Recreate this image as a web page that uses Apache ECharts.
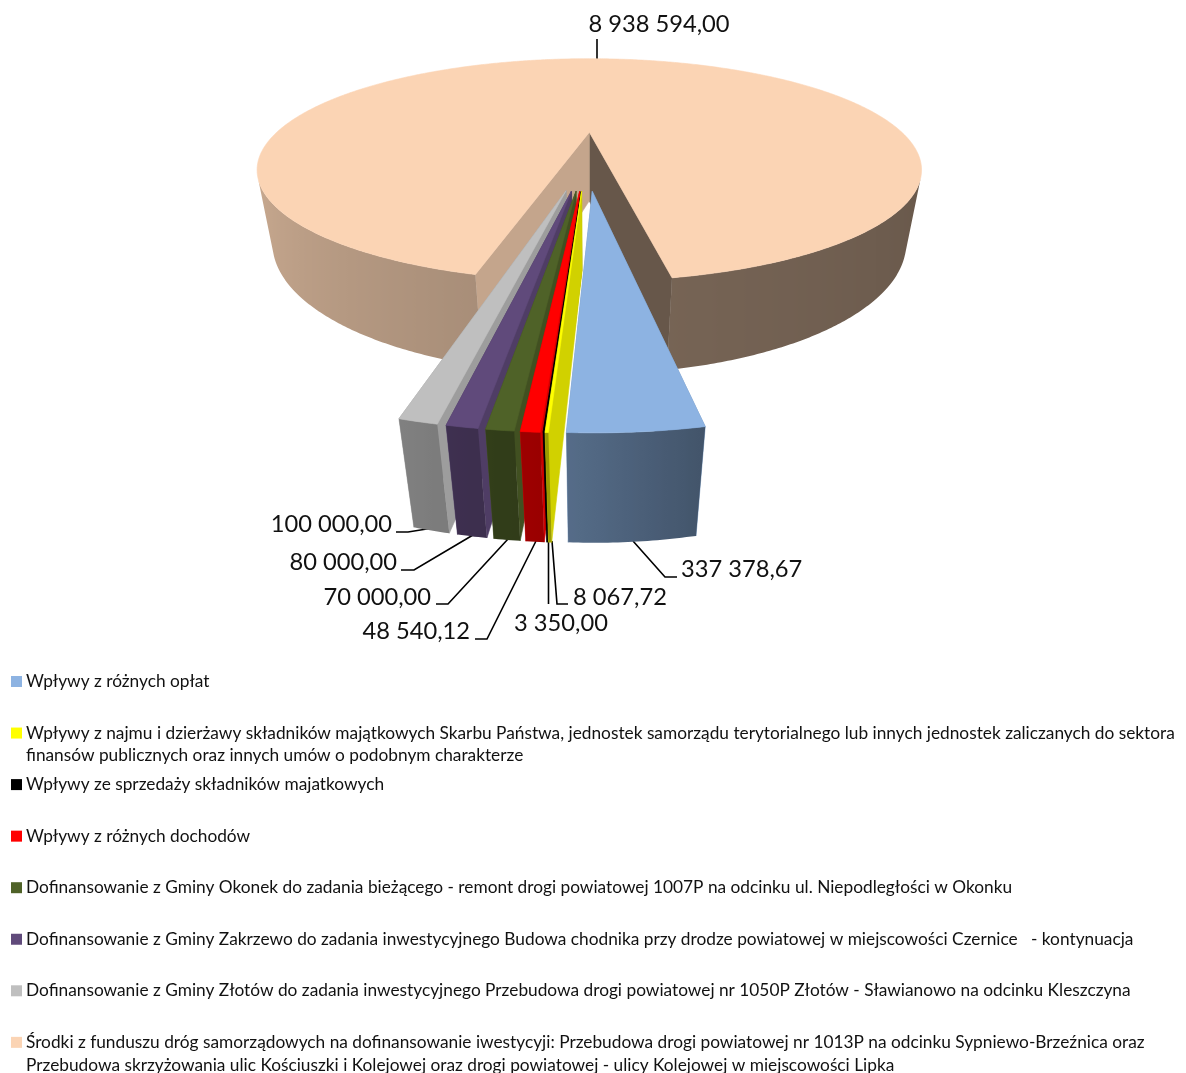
<!DOCTYPE html>
<html>
<head>
<meta charset="utf-8">
<title>Wplywy</title>
<script src="https://cdn.jsdelivr.net/npm/echarts@6/dist/echarts.min.js"></script>
<style>
    html, body { margin: 0; background: #fff; }
    #chart { width: 1186px; height: 1073px; }
</style>
</head>
<body>
<div id="chart"></div>
<script>
const categories = [
    'Wpływy z różnych opłat',
    'Wpływy z najmu i dzierżawy składników majątkowych Skarbu Państwa, jednostek samorządu terytorialnego lub innych jednostek zaliczanych do sektora\nfinansów publicznych oraz innych umów o podobnym charakterze',
    'Wpływy ze sprzedaży składników majatkowych',
    'Wpływy z różnych dochodów',
    'Dofinansowanie z Gminy Okonek do zadania bieżącego - remont drogi powiatowej 1007P na odcinku ul. Niepodległości w Okonku',
    'Dofinansowanie z Gminy Zakrzewo do zadania inwestycyjnego Budowa chodnika przy drodze powiatowej w miejscowości Czernice   - kontynuacja',
    'Dofinansowanie z Gminy Złotów do zadania inwestycyjnego Przebudowa drogi powiatowej nr 1050P Złotów - Sławianowo na odcinku Kleszczyna',
    'Środki z funduszu dróg samorządowych na dofinansowanie iwestycyji: Przebudowa drogi powiatowej nr 1013P na odcinku Sypniewo-Brzeźnica oraz\nPrzebudowa skrzyżowania ulic Kościuszki i Kolejowej oraz drogi powiatowej - ulicy Kolejowej w miejscowości Lipka'
];
const values = [337378.67, 8067.72, 3350, 48540.12, 70000, 80000, 100000, 8938594];
const colors = ['#8DB3E2', '#FFFF00', '#000000', '#FF0000', '#4F6228', '#604A7B', '#BFBFBF', '#FBD4B4'];

// data labels: text anchor and leader line, same order as values
const labelLayout = [
    { x: 681, y: 569.5, align: 'left', line: [[677, 577], [665, 577], [633, 541]] },
    { x: 573, y: 597.5, align: 'left', line: [[568, 604], [557, 604], [552, 541]] },
    { x: 514, y: 623.5, align: 'left', line: [[548.5, 604], [548.5, 541]] },
    { x: 470, y: 631.5, align: 'right', line: [[475, 639], [487, 639], [536, 541]] },
    { x: 431, y: 597.5, align: 'right', line: [[436, 604], [448, 604], [508, 539]] },
    { x: 397, y: 562.5, align: 'right', line: [[401, 570], [414, 570], [473, 535]] },
    { x: 392, y: 524.5, align: 'right', line: [[396, 532], [408, 532], [433, 528]] },
    { x: 659, y: 24.5, align: 'center', line: [[597, 39], [597, 59]] }
];

// camera of the 3D pie, fitted to the picture
const cam = { cx: 589.3, cy: 132.7, A: 313, B: 98.8, k: 0.34, m: 0.043, vy: 1800 };
const pie = { x: -0.0087, y: 0.245, explode: 0.25, startDeg: 10.15 };
// wall brightness by the direction the wall faces
const wallShade = [[-180, 0.86], [-90, 0.86], [-14, 0.67], [-2, 0.6], [10, 0.47], [90, 0.39], [180, 0.39]];

const project = (x, y, d) => {
    const u = 1 - cam.k * y;
    const s = u / (u + cam.m * d);
    const x0 = cam.A * x / u;
    const y0 = cam.cy + cam.B * y / u;
    return [cam.cx + x0 * s, cam.vy + (y0 - cam.vy) * s];
};

const shade = (hex, f) => {
    const n = parseInt(hex.slice(1), 16);
    const c = [n >> 16, (n >> 8) & 255, n & 255].map(v => Math.round(v * f));
    return 'rgb(' + c.join(',') + ')';
};

const normDeg = (deg) => ((deg + 180) % 360 + 360) % 360 - 180;

const shadeAt = (deg) => {
    const a = normDeg(deg);
    for (let i = 1; i < wallShade.length; i++) {
        if (a <= wallShade[i][0]) {
            const p = wallShade[i - 1], q = wallShade[i];
            return p[1] + (q[1] - p[1]) * (a - p[0]) / (q[0] - p[0]);
        }
    }
    return 0.4;
};

const total = values.reduce((a, b) => a + b, 0);
let running = pie.startDeg;
const slices = values.map(v => {
    const sweep = v / total * 360;
    const s = { from: running, to: running - sweep };
    running -= sweep;
    return s;
});

const poly = (points, fill) => ({
    type: 'polygon',
    shape: { points: points },
    style: { fill: fill, stroke: fill, lineWidth: 0.6 }
});

// one polygon for a run of the outer wall, shaded left to right by a gradient
const wallPolygon = (run, rim, color) => {
    const top = run.map(a => rim(a, 0));
    const bottom = run.map(a => rim(a, 1)).reverse();
    const xs = top.map(p => p[0]);
    const minX = Math.min(...xs);
    const maxX = Math.max(...xs);
    const stops = run.map((a, n) => ({
        offset: (xs[n] - minX) / (maxX - minX),
        color: shade(color, shadeAt(a))
    })).sort((p, q) => p.offset - q.offset);
    const fill = { type: 'linear', x: minX, y: 0, x2: maxX, y2: 0, global: true, colorStops: stops };
    return { type: 'polygon', shape: { points: top.concat(bottom) }, style: { fill: fill } };
};

const renderSlice = (params, api) => {
    const i = api.value(0);
    const color = colors[i];
    const { from, to } = slices[i];
    const mid = (from + to) / 2 * Math.PI / 180;
    const ox = pie.x + pie.explode * Math.sin(mid);
    const oy = pie.y + pie.explode * Math.cos(mid);
    const rim = (deg, d) => {
        const t = deg * Math.PI / 180;
        return project(ox + Math.sin(t), oy + Math.cos(t), d);
    };
    // a wall strip faces the viewer while the rim runs against the wall's downward edge
    const facing = (a) => {
        const p = rim(a, 0), q = rim(a - 0.25, 0), b = rim(a, 1);
        return (q[0] - p[0]) * (b[1] - p[1]) - (q[1] - p[1]) * (b[0] - p[0]) < 0;
    };
    const steps = Math.max(2, Math.ceil((from - to) / 0.5));
    const angles = [];
    for (let s = 0; s <= steps; s++) {
        angles.push(from + (to - from) * s / steps);
    }
    const children = [];
    const apexTop = project(ox, oy, 0);
    const apexBottom = project(ox, oy, 1);
    // inner walls: the big slice has its own two tones, seen from inside the gap
    const big = i === values.length - 1;
    children.push(poly([apexTop, rim(to, 0), rim(to, 1), apexBottom], shade(color, big ? 0.41 : 0.82)));
    children.push(poly([apexTop, rim(from, 0), rim(from, 1), apexBottom], shade(color, big ? 0.78 : 0.82)));
    // outer wall, only the part turned towards the viewer
    let run = [];
    angles.forEach(a => {
        if (facing(a)) {
            run.push(a);
        } else if (run.length) {
            children.push(wallPolygon(run, rim, color));
            run = [];
        }
    });
    if (run.length > 1) {
        children.push(wallPolygon(run, rim, color));
    }
    children.push(poly([apexTop].concat(angles.map(a => rim(a, 0))), color));
    return { type: 'group', children: children };
};

const formatValue = (v) => {
    const parts = v.toFixed(2).split('.');
    return parts[0].replace(/\B(?=(\d{3})+$)/g, ' ') + ',' + parts[1];
};

const fontName = 'Lato, "Noto Sans", sans-serif';
const graphics = [];
values.forEach((v, i) => {
    const l = labelLayout[i];
    graphics.push({
        type: 'polyline',
        shape: { points: l.line },
        style: { stroke: '#000', lineWidth: 1.6, fill: null }
    });
    graphics.push({
        type: 'text',
        style: { x: l.x, y: l.y, text: formatValue(v), align: l.align, verticalAlign: 'middle', font: '23.7px ' + fontName, fill: '#111' }
    });
});
categories.forEach((name, i) => {
    const rowY = 681 + 51.55 * i;
    graphics.push({
        type: 'rect',
        shape: { x: 11, y: rowY - 5, width: 11, height: 11 },
        style: { fill: colors[i] }
    });
    graphics.push({
        type: 'text',
        style: { x: 26, y: rowY - 10.9, text: name, align: 'left', verticalAlign: 'top', lineHeight: 22.7, font: '17.3px ' + fontName, fill: '#111' }
    });
});

const chart = echarts.init(document.getElementById('chart'));
chart.setOption({
    animation: false,
    series: [{
        type: 'custom',
        coordinateSystem: 'none',
        silent: true,
        renderItem: renderSlice,
        // drawn from the back: big slice first, first category last
        data: values.map((v, i) => [i]).reverse()
    }],
    graphic: { elements: graphics }
});
</script>
</body>
</html>
